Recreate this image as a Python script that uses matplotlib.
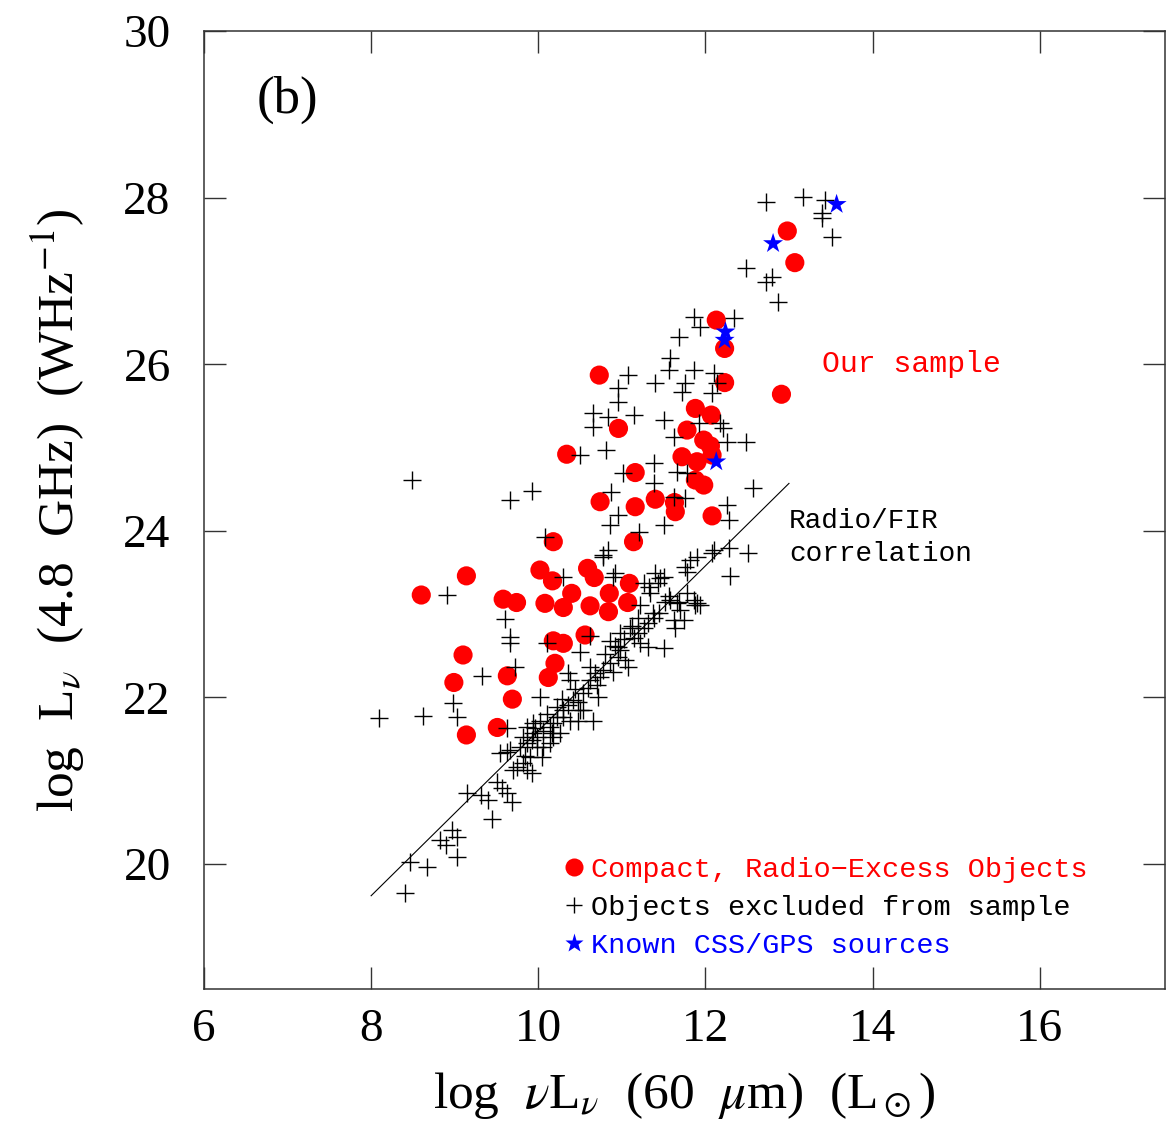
# >>>> </> IMPORTS </>
# >>>> ************************************************************************************************
import numpy as np
import matplotlib
matplotlib.use("Agg")
from matplotlib import pyplot as plt
from matplotlib.lines import Line2D
# >>>> ************************************************************************************************

# ___________________________________________________________________________________________
# --- DATA: log nuL_nu(60um) vs log L_nu(4.8 GHz) ---
# compact, radio-excess objects (our sample)
sample_x = [12.98, 13.07, 12.13, 12.23, 12.23, 12.91, 10.73, 10.96, 10.34, 11.88,
            12.07, 11.78, 11.98, 12.06, 12.08, 11.72, 11.90, 11.88, 11.98, 11.16,
            10.74, 11.16, 11.40, 11.63, 11.64, 12.08, 11.14, 10.18, 10.02, 10.17,
            10.08, 10.30, 10.40, 10.59, 10.67, 10.62, 10.85, 10.84, 11.09, 11.07,
            9.58, 9.74, 9.14, 8.60, 10.56, 10.18, 10.30, 10.20, 10.12, 9.10,
            8.99, 9.63, 9.69, 9.14, 9.51]
sample_y = [27.60, 27.22, 26.53, 26.19, 25.78, 25.64, 25.87, 25.23, 24.92, 25.47,
            25.39, 25.21, 25.09, 25.02, 24.91, 24.89, 24.83, 24.61, 24.55, 24.70,
            24.35, 24.29, 24.38, 24.34, 24.23, 24.18, 23.87, 23.87, 23.53, 23.40,
            23.13, 23.08, 23.25, 23.55, 23.44, 23.10, 23.25, 23.03, 23.37, 23.14,
            23.18, 23.14, 23.46, 23.23, 22.75, 22.68, 22.65, 22.41, 22.24, 22.51,
            22.18, 22.26, 21.98, 21.55, 21.64]

# objects excluded from sample
excl_x = [12.73, 13.17, 13.43, 13.40, 13.40, 13.51, 12.48, 12.73, 12.80, 12.87,
          11.86, 11.94, 12.34, 11.69, 11.58, 11.56, 11.86, 12.10, 12.14, 11.40,
          11.76, 11.72, 12.08, 11.07, 10.95, 10.96, 10.65, 10.65, 10.84, 11.14,
          11.50, 11.62, 11.92, 12.18, 12.21, 12.26, 12.48, 10.50, 10.81, 11.38,
          11.66, 11.78, 11.01, 11.38, 10.87, 11.62, 11.76, 12.26, 12.28, 12.57,
          10.96, 10.86, 11.50, 11.20, 10.08, 10.83, 11.90, 12.10, 12.28, 12.51,
          12.30, 8.49, 9.66, 9.92, 10.78, 10.90, 8.91, 9.60, 9.66, 9.66,
          10.11, 9.72, 9.33, 8.98, 9.03, 8.10, 8.62, 10.02, 9.63, 9.94,
          10.30, 11.82, 11.76, 11.50, 11.43, 11.26, 11.34, 11.22, 11.90,
          9.15, 9.31, 9.40, 9.51, 9.57, 9.63, 9.69, 9.45, 8.97, 8.83,
          9.03, 8.89, 9.03, 8.47, 8.67, 8.41,
          10.78, 10.92, 11.40, 11.78, 12.08, 11.32, 11.52, 11.66, 11.70, 11.88,
          11.62, 11.64, 11.38, 11.31, 11.19, 11.10, 11.14, 10.98, 10.86, 10.62,
          10.50, 11.50, 11.31, 11.22, 10.98, 10.95, 10.86, 10.78, 10.68, 10.62,
          10.74, 11.07, 10.90, 10.35, 10.38, 10.59, 10.54, 10.71, 10.42, 10.35,
          10.30, 10.50, 10.23, 10.18, 10.38, 10.02, 10.06, 9.94, 9.87, 10.17,
          10.66, 10.26, 9.54, 9.66, 9.78, 9.87, 9.93, 9.99, 9.90, 9.82,
          9.75, 9.87, 9.93, 10.06, 10.14, 10.18, 10.05, 9.70, 9.63, 9.82,
          9.96, 10.14, 10.30, 10.47, 10.54, 11.26, 11.37, 11.58, 11.68, 11.78,
          11.86, 11.94, 11.74, 11.46, 10.95, 11.19,
          10.44, 10.62, 10.80, 11.02, 11.12, 10.28, 10.10, 9.98, 11.44, 11.56,
          10.48, 10.70, 11.04, 10.92, 10.22, 9.84]
excl_y = [27.95, 28.01, 27.97, 27.82, 27.76, 27.53, 27.16, 26.99, 27.05, 26.75,
          26.57, 26.45, 26.55, 26.33, 26.08, 25.93, 25.93, 25.90, 25.78, 25.77,
          25.77, 25.67, 25.65, 25.87, 25.71, 25.55, 25.41, 25.25, 25.37, 25.39,
          25.33, 25.13, 25.29, 25.29, 25.23, 25.07, 25.07, 24.91, 24.97, 24.81,
          24.71, 24.69, 24.69, 24.57, 24.47, 24.41, 24.39, 24.31, 24.13, 24.51,
          24.19, 24.07, 24.07, 23.99, 23.93, 23.77, 23.69, 23.77, 23.79, 23.73,
          23.46, 24.61, 24.37, 24.48, 23.69, 23.45, 23.23, 22.94, 22.73, 22.65,
          22.66, 22.36, 22.26, 21.93, 21.76, 21.75, 21.78, 22.00, 21.63, 21.69,
          23.45, 23.65, 23.57, 23.45, 23.37, 23.37, 23.25, 23.11, 23.13,
          20.85, 20.83, 20.77, 20.98, 20.91, 20.85, 20.74, 20.54, 20.41, 20.29,
          20.32, 20.23, 20.08, 20.02, 19.96, 19.65,
          23.71, 23.49, 23.49, 23.51, 23.73, 23.33, 23.15, 23.13, 23.05, 23.11,
          22.93, 22.83, 22.95, 22.89, 22.96, 22.84, 22.72, 22.77, 22.68, 22.74,
          22.54, 22.59, 22.60, 22.65, 22.57, 22.48, 22.41, 22.33, 22.29, 22.21,
          22.25, 22.37, 22.31, 22.29, 22.21, 22.11, 22.05, 22.00, 21.97, 21.91,
          21.85, 21.85, 21.76, 21.69, 21.72, 21.72, 21.60, 21.57, 21.64, 21.57,
          21.72, 21.57, 21.33, 21.37, 21.40, 21.45, 21.49, 21.40, 21.28, 21.21,
          21.16, 21.13, 21.09, 21.40, 21.45, 21.52, 21.28, 21.13, 21.34, 21.52,
          21.63, 21.64, 21.76, 21.72, 21.85, 22.84, 23.01, 23.17, 23.15, 23.25,
          23.17, 23.11, 22.93, 23.43, 22.60, 22.77,
          22.10, 22.36, 22.52, 22.70, 22.86, 21.98, 21.80, 21.52, 23.02, 23.22,
          21.95, 22.15, 22.45, 22.62, 21.88, 21.30]

# known CSS/GPS sources
css_x = [13.57, 12.81, 12.24, 12.23, 12.13]
css_y = [27.92, 27.45, 26.39, 26.29, 24.83]

# radio/FIR correlation line
fir_x = [8.0, 13.0]
fir_y = [19.62, 24.57]

x_ticks = [6, 8, 10, 12, 14, 16]
y_ticks = [20, 22, 24, 26, 28, 30]

legend_labels = ["Compact, Radio\u2212Excess Objects",
                 "Objects excluded from sample",
                 "Known CSS/GPS sources"]
legend_colors = ["red", "black", "blue"]

# ___________________________________________________________________________________________
# --- STYLE ---
plt.rcParams["font.family"] = ["Liberation Serif", "DejaVu Serif"]
plt.rcParams["mathtext.fontset"] = "stix"
MONO = ["Liberation Mono", "DejaVu Sans Mono"]

fig = plt.figure(figsize=(11.71, 11.38), dpi=100)
ax = fig.add_axes([0.1742, 0.1309, 0.8207, 0.8418])

# ___________________________________________________________________________________________
# --- MARKS ---
ax.plot(fir_x, fir_y, color="black", lw=0.8, zorder=1)
ax.scatter(sample_x, sample_y, s=190, c="#ff0000", edgecolors="none", zorder=2)
ax.scatter(excl_x, excl_y, s=150, marker="+", c="black", linewidths=1.0, zorder=3)
ax.scatter(css_x, css_y, s=230, marker="*", c="#0000ff", edgecolors="none", zorder=4)

# ___________________________________________________________________________________________
# --- AXES ---
ax.set_xlim(6, 17.5)
ax.set_ylim(18.5, 30)
ax.set_xticks(x_ticks)
ax.set_yticks(y_ticks)
ax.tick_params(direction="in", length=16, width=1.0, top=True, right=True,
               labelsize=34, color="#333333")
ax.tick_params(axis="y", pad=24)
ax.tick_params(axis="x", pad=14)
for sp in ax.spines.values():
    sp.set_linewidth(1.1)
    sp.set_color("#333333")

ax.set_xlabel(r"log  $\nu$L$_\nu$  (60  $\mu$m)  (L$_\odot$)", fontsize=37, labelpad=14)
ax.set_ylabel(r"log  L$_\nu$  (4.8  GHz)  (WHz$^{-1}$)", fontsize=37, labelpad=26)

# ___________________________________________________________________________________________
# --- ANNOTATIONS ---
ax.text(7.0, 29.17, "(b)", fontsize=38, ha="center", va="center")
ax.text(13.4, 26.0, "Our sample", color="red", fontsize=21.5, family=MONO, va="center")
ax.text(13.0, 24.12, "Radio/FIR", color="black", fontsize=20, family=MONO, va="center")
ax.text(13.0, 23.72, "correlation", color="black", fontsize=20, family=MONO, va="center")

handles = [Line2D([], [], ls="none", marker="o", ms=13, color="#ff0000", mec="none"),
           Line2D([], [], ls="none", marker="+", ms=12, color="black", mew=1.0),
           Line2D([], [], ls="none", marker="*", ms=14, color="#0000ff", mec="none")]
ax.legend(handles, legend_labels, loc="lower left", bbox_to_anchor=(0.355, 0.011),
          frameon=False, prop={"family": MONO, "size": 20.5}, labelcolor=legend_colors,
          handlelength=0.6, handletextpad=0.3, labelspacing=0.42, borderpad=0.2)

fig.savefig("out.png", dpi=100)
